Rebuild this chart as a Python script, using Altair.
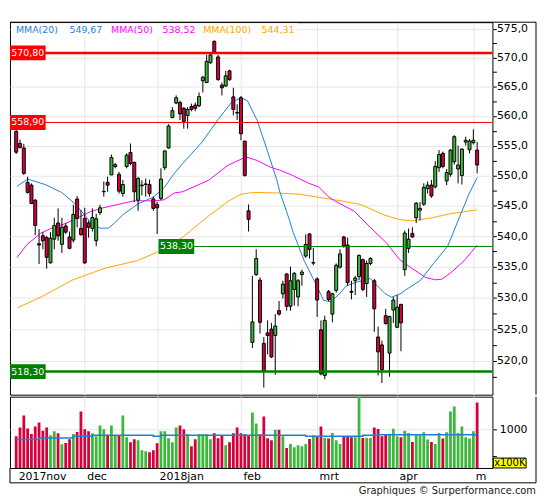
import altair as alt
import pandas as pd

# ---------------- data ----------------
opens = [557.4, 555.35, 554.6, 548.85, 548.4, 545.9, 538.75, 540.05, 539.75, 535.65,
         539.5, 542.15, 538.65, 541.65, 539.85, 539.35, 546.1, 541.25, 542.9, 542.15,
         541.25, 539.25,
         543.85, 547.3, 548.85, 550.1, 551.5, 550.2, 547.0, 551.5, 553.85, 552.2,
         545.9, 548.3, 548.5, 548.5, 546.1, 545.2, 546.2, 551.3, 554.6,
         559.75, 562.2, 562.3, 561.3, 560.1, 561.6, 561.85, 561.75, 566.0, 565.7,
         569.1, 572.8, 570.1, 565.25, 565.1, 567.7, 563.25, 560.6, 563.1, 555.75, 544.15,
         522.9, 533.75, 532.85, 522.75, 524.4, 525.0, 524.0, 527.95, 530.65, 533.85,
         528.65, 531.35, 530.15, 533.75, 536.75, 540.35, 535.6, 533.05, 524.9, 517.7,
         531.0, 527.4, 531.2, 534.95, 539.85, 538.55, 531.05, 532.75, 533.45, 536.15,
         532.3, 535.55, 532.75, 523.75, 522.5, 527.15, 521.2, 528.05, 525.3, 528.95, 534.55,
         538.0, 540.45, 543.0, 544.25, 545.25, 547.85, 548.4, 548.1, 551.3, 553.7,
         549.1, 550.2, 552.3, 551.1, 550.0, 555.6, 554.3, 555.5, 554.25]
highs = [557.8, 556.0, 555.3, 549.8, 548.7, 546.1, 541.15, 540.65, 540.05, 540.65,
         543.0, 544.55, 543.0, 542.15, 540.75, 545.15, 546.6, 544.25, 544.65, 542.55,
         544.55, 543.65,
         545.15, 549.0, 549.8, 553.5, 552.1, 550.6, 549.25, 553.7, 555.35, 552.3,
         549.8, 549.2, 549.5, 549.3, 546.5, 545.6, 551.2, 554.25, 558.6,
         561.5, 563.5, 562.6, 561.5, 561.5, 562.1, 562.3, 564.0, 566.85, 570.45,
         570.85, 572.95, 570.45, 565.7, 567.7, 567.9, 564.8, 562.0, 563.4, 555.8, 545.2,
         533.55, 537.85, 533.3, 523.75, 526.4, 526.0, 527.4, 529.5, 532.75, 533.95,
         535.05, 534.15, 533.05, 534.55, 540.25, 540.5, 538.05, 533.3, 526.4, 527.15,
         531.25, 530.85, 535.55, 537.85, 540.05, 539.75, 532.75, 533.55, 537.0, 536.35,
         536.0, 536.55, 533.05, 525.4, 523.2, 528.25, 527.15, 530.15, 530.45, 529.05, 540.9,
         541.25, 541.45, 545.6, 545.6, 548.7, 549.0, 549.25, 552.4, 554.25, 554.0,
         551.1, 554.4, 556.75, 555.0, 554.6, 556.5, 556.1, 557.75, 555.6]
lows = [553.6, 554.5, 550.1, 547.0, 545.25, 540.15, 535.45, 537.85, 534.7, 535.55,
        537.85, 539.25, 537.25, 540.35, 537.85, 538.95, 541.45, 540.05, 535.45, 539.75,
        540.75, 538.35,
        543.45, 546.5, 547.3, 550.1, 551.2, 547.0, 546.5, 551.2, 551.7, 545.6,
        544.15, 546.7, 546.5, 546.5, 544.15, 540.35, 545.9, 550.9, 554.5,
        559.6, 562.0, 559.3, 557.85, 557.85, 560.8, 560.8, 561.5, 564.0, 565.6,
        568.95, 570.75, 566.0, 563.5, 565.0, 566.0, 560.1, 559.3, 555.9, 549.8, 540.75,
        522.0, 533.55, 524.3, 515.8, 521.0, 520.45, 517.8, 527.15, 529.9, 527.95,
        527.95, 528.75, 528.65, 531.95, 536.45, 536.35, 535.25, 526.95, 517.7, 517.1,
        529.45, 526.1, 530.8, 534.7, 538.1, 531.95, 529.75, 530.45, 532.85, 531.05,
        530.15, 535.25, 524.6, 517.7, 516.5, 525.7, 517.5, 526.0, 525.15, 521.5, 533.55,
        537.25, 539.75, 542.15, 542.55, 544.95, 547.0, 546.3, 547.85, 550.6, 551.2,
        548.4, 549.8, 551.85, 548.7, 548.5, 555.0, 553.7, 555.2, 550.35]
closes = [553.9, 554.7, 550.35, 547.2, 545.35, 541.75, 538.55, 539.25, 536.55, 539.65,
          541.75, 540.05, 541.45, 540.65, 538.0, 543.55, 542.9, 540.25, 535.65, 541.45,
          543.05, 542.85,
          544.65, 547.35, 548.4, 553.0, 551.8, 547.4, 548.5, 553.4, 552.0, 547.3,
          549.5, 548.4, 548.6, 547.0, 544.55, 544.65, 549.4, 554.1, 558.3,
          560.9, 563.1, 560.35, 559.1, 561.1, 561.1, 561.3, 563.3, 566.6, 569.35,
          570.45, 570.9, 566.2, 564.8, 566.85, 566.2, 561.1, 560.5, 557.0, 550.0, 542.75,
          526.15, 536.35, 526.1, 518.4, 524.0, 520.6, 525.5, 527.4, 532.2, 528.65,
          532.75, 533.95, 532.75, 534.15, 538.65, 537.85, 535.7, 529.65, 517.95, 526.4,
          529.75, 530.65, 535.25, 537.1, 538.35, 532.45, 530.9, 533.2, 536.85, 531.35,
          535.55, 536.35, 528.25, 521.4, 518.6, 525.9, 527.0, 529.65, 528.5, 526.0, 540.5,
          539.5, 539.85, 545.4, 544.55, 548.0, 548.4, 546.6, 551.5, 553.5, 551.5,
          550.5, 554.25, 556.5, 551.75, 554.4, 555.9, 555.75, 555.9, 551.75]
volumes = [874, 1043, 1268, 1024, 918, 1062, 1137, 981, 1043, 893,
           968, 931, 724, 749, 818, 918, 955, 1343, 1006, 968,
           931, 874, 1081, 1006, 906, 1081, 893, 893, 1268, 856,
           762, 818, 799, 612, 593, 574, 612, 743, 968, 968,
           837, 762, 1043, 1081, 1006, 912, 687, 818, 912, 912,
           912, 818, 931, 837, 893, 706, 762, 931, 1043, 931,
           912, 893, 1324, 1118, 912, 1249, 837,
           799, 1000, 1000, 874, 655, 730, 668, 706, 687, 730,
           824, 893, 874, 1062, 843, 831, 937, 799, 730, 874,
           874, 856, 856, 1624, 843, 843, 843, 1043, 1012, 874,
           906, 918, 1018, 874, 856, 981, 937, 768, 918, 893,
           949, 812, 768, 730, 937, 831, 949, 1343, 1437, 937,
           1062, 856, 831, 968, 1512]

mma20_pos = [0.2, 3.0, 7.6, 11.9, 15.3, 17.8, 20.0, 22.0, 24.2, 25.9,
             28.0, 32.0, 36.0, 39.0, 41.2, 43.7, 48.8, 53.0, 56.5, 59.0,
             60.7, 63.3, 65.8, 68.4, 69.2, 71.8, 72.6, 75.6, 78.6, 80.7,
             82.4, 84.5, 86.6, 89.2, 93.0, 94.7, 96.8, 98.5, 101.0, 102.3,
             106.1, 109.5, 113.3, 116.3, 118.9, 121.0]
mma20_val = [548.2, 549.4, 548.5, 547.2, 545.4, 543.6, 541.9, 541.3, 541.3, 542.2,
             543.5, 545.3, 546.4, 548.1, 550.1, 552.0, 555.6, 559.4, 562.3, 563.1,
             562.6, 559.2, 554.4, 549.3, 547.3, 542.5, 540.8, 536.0, 532.3, 529.6,
             529.4, 530.4, 531.9, 532.5, 533.1, 532.0, 530.7, 530.1, 530.7, 531.3,
             532.8, 535.5, 538.4, 543.0, 547.0, 549.67]
mma50_pos = [0.2, 2.8, 6.5, 9.3, 12.7, 15.5, 19.5, 22.5, 24.6, 31.0,
             36.5, 39.0, 41.5, 43.7, 50.5, 55.6, 60.3, 63.3, 66.7, 69.2,
             72.6, 76.8, 79.4, 81.9, 83.6, 88.7, 93.0, 97.2, 100.6, 104.0,
             107.4, 110.0, 111.7, 114.2, 117.6, 121.0]
mma50_val = [536.5, 538.6, 540.5, 541.3, 542.0, 542.8, 544.0, 544.6, 544.9, 545.8,
             545.8, 546.0, 547.1, 547.3, 549.2, 551.7, 553.1, 552.5, 551.4, 550.9,
             550.0, 548.7, 548.1, 546.5, 545.8, 544.1, 541.4, 538.9, 536.2, 534.7,
             533.3, 532.9, 533.0, 534.1, 536.0, 538.52]
mma100_pos = [0.3, 6.4, 14.9, 23.4, 31.8, 37.8, 43.7, 50.5, 55.6, 59.0, 62.4,
              68.4, 74.3, 80.2, 85.3, 90.4, 96.4, 100.6, 104.0, 109.1, 114.2, 121.0]
mma100_val = [528.4, 530.1, 532.9, 534.8, 536.0, 537.6, 539.8, 543.3, 545.7, 546.9, 547.2,
              547.1, 546.9, 546.3, 545.8, 545.2, 543.5, 542.7, 542.5, 543.0, 543.7, 544.31]
vol_avg_pos = [0, 6, 15, 20, 36, 38, 76, 91, 95, 121]
vol_avg_val = [812, 843, 874, 893, 874, 893, 874, 893, 906, 906]

month_pos = [0, 18, 37, 59, 79, 100, 120]
month_labels = ["2017nov", "dec", "2018jan", "feb", "mrt", "apr", "m"]

levels = [570.80, 558.90, 538.30, 518.30]
level_labels = ["570,80", "558,90", "538,30", "518,30"]

ma_names = ["MMA(20)", "MMA(50)", "MMA(100)"]
ma_last = ["549,67", "538,52", "544,31"]

price_ticks = [517.5, 520, 522.5, 525, 527.5, 530, 532.5, 535, 537.5, 540, 542.5,
               545, 547.5, 550, 552.5, 555, 557.5, 560, 562.5, 565, 567.5, 570,
               572.5, 575]
vol_ticks = [500, 1000]

# ---------------- styles / layout ----------------
FONT = "DejaVu Sans"
RED = "#d6003c"
GREEN = "#3cb83c"
BLUE = "#1f7fd6"
MAGENTA = "#ff00ff"
ORANGE = "#ffa500"
GRID = "#e6e6e6"
W, HP, HV = 487, 376, 72
FR = 531  # outer frame right edge (relative to plot left)
level_colors = ["#ff0000", "#ff0000", "#008000", "#008000"]
level_widths = [2.5, 1, 1, 2.5]
level_x0 = [0, 0, 150, 0]
legend_name_x = [6, 102, 195]
legend_val_x = [60, 154, 254]
ma_colors = [BLUE, MAGENTA, ORANGE]

df = pd.DataFrame({"i": list(range(len(opens))), "open": opens, "high": highs,
                   "low": lows, "close": closes, "volume": volumes})
df["dir"] = ["up" if c >= o else "down" for o, c in zip(opens, closes)]
one = pd.DataFrame({"k": [0]})

xs = alt.Scale(domain=[-0.33, 123.71], nice=False, zero=False)
ys = alt.Scale(type="log", domain=[514.69, 576.13], nice=False, zero=False)
vs = alt.Scale(domain=[275, 1625], nice=False, zero=False)
col = alt.Color("dir:N", scale=alt.Scale(domain=["up", "down"], range=[GREEN, RED]), legend=None)

x_axis_price = alt.Axis(values=month_pos[1:], labels=False, ticks=False, domain=False,
                        grid=True, gridColor=GRID, title=None)
label_expr = " : ".join(f"datum.value == {p} ? '{l}'" for p, l in zip(month_pos, month_labels)) + " : ''"
x_axis_vol = alt.Axis(values=month_pos, labelExpr=label_expr, labelAlign="left",
                      labelBaseline="top", labelPadding=3, labelOffset=2, ticks=False,
                      domain=False, grid=True, gridColor=GRID,
                      gridOpacity={"condition": {"test": "datum.value > 0", "value": 1}, "value": 0},
                      labelFont=FONT, labelFontSize=11, labelColor="black",
                      labelOverlap=False, labelFlush=False, title=None)
y_axis_price = alt.Axis(orient="right", values=price_ticks,
                        labelExpr="datum.value % 5 == 0 ? replace(format(datum.value, '.1f'), '.', ',') : ''",
                        tickSize=4, tickColor="black", labelPadding=0, domain=False,
                        grid=True, gridColor=GRID,
                        gridOpacity={"condition": {"test": "datum.value % 5 == 0", "value": 1}, "value": 0},
                        labelFont=FONT, labelFontSize=11, labelColor="black",
                        labelOverlap=False, labelFlush=False, title=None)
y_axis_vol = alt.Axis(orient="right", values=vol_ticks,
                      labelExpr="datum.value == 1000 ? format(datum.value, 'd') : ''",
                      tickSize=4, tickColor="black", labelPadding=3, domain=False,
                      grid=True, gridColor=GRID,
                      gridOpacity={"condition": {"test": "datum.value == 1000", "value": 1}, "value": 0},
                      labelFont=FONT, labelFontSize=11, labelColor="black",
                      labelOverlap=False, labelFlush=False, title=None)


def XP(f):
    return alt.X(f, type="quantitative", scale=xs, axis=x_axis_price, title=None)


def YP(f):
    return alt.Y(f, type="quantitative", scale=ys, axis=y_axis_price, title=None)


def XV(f):
    return alt.X(f, type="quantitative", scale=xs, axis=x_axis_vol, title=None)


def YV(f):
    return alt.Y(f, type="quantitative", scale=vs, axis=y_axis_vol, title=None)


# ---------------- price panel ----------------
layers = []
legend_bg = alt.Chart(one).mark_rect(color="white").encode(
    x=alt.value(1), x2=alt.value(290), y=alt.value(1), y2=alt.value(14))
layers.append(legend_bg)
for pos, val, c in [(mma100_pos, mma100_val, ORANGE), (mma50_pos, mma50_val, MAGENTA),
                    (mma20_pos, mma20_val, BLUE)]:
    layers.append(alt.Chart(pd.DataFrame({"i": pos, "v": val})).mark_line(
        color=c, strokeWidth=1).encode(x=XP("i"), y=YP("v")))

base = alt.Chart(df)
layers.append(base.mark_rule(color="black", strokeWidth=1).encode(
    x=XP("i"), y=YP("low"), y2="high"))
layers.append(base.mark_bar(width=3, stroke="black", strokeWidth=1).encode(
    x=XP("i"), y=YP("open"), y2="close", color=col))

for k in range(len(levels)):
    ld = pd.DataFrame({"level": [levels[k]], "label": [level_labels[k]]})
    lc = alt.Chart(ld)
    layers.append(lc.mark_rule(color=level_colors[k], strokeWidth=level_widths[k]).encode(
        y=YP("level"), x=alt.value(level_x0[k]), x2=alt.value(W)))
    layers.append(lc.mark_tick(orient="horizontal", thickness=15, size=36,
                               color=level_colors[k], opacity=1).encode(
        y=YP("level"), x=alt.value(level_x0[k] + 18)))
    layers.append(lc.mark_text(color="white", font=FONT, fontSize=9.5, align="center",
                               baseline="middle").encode(
        y=YP("level"), x=alt.value(level_x0[k] + 18), text="label:N"))

for k in range(3):
    layers.append(alt.Chart(one).mark_text(text=ma_names[k], color=ma_colors[k], font=FONT,
                                           fontSize=9.5, align="left", baseline="middle").encode(
        x=alt.value(legend_name_x[k]), y=alt.value(8)))
    layers.append(alt.Chart(one).mark_text(text=ma_last[k], color=ma_colors[k], font=FONT,
                                           fontSize=9.5, align="left", baseline="middle").encode(
        x=alt.value(legend_val_x[k]), y=alt.value(8)))

layers.append(alt.Chart(one).mark_rule(color="black", strokeWidth=1).encode(
    x=alt.value(0), x2=alt.value(FR), y=alt.value(0)))
layers.append(alt.Chart(one).mark_rule(color="black", strokeWidth=1).encode(
    x=alt.value(FR), y=alt.value(0), y2=alt.value(HP)))

price = alt.layer(*layers).properties(width=W, height=HP)

# ---------------- volume panel ----------------
vlayers = []
vlayers.append(base.mark_bar(width=2.8, clip=True).encode(x=XV("i"), y=YV("volume"), color=col))
vlayers.append(alt.Chart(pd.DataFrame({"i": vol_avg_pos, "v": vol_avg_val})).mark_line(
    color=BLUE, strokeWidth=1.5, interpolate="step-after").encode(x=XV("i"), y=YV("v")))
vlayers.append(alt.Chart(one).mark_rect(fill="#ffff00", stroke="black", strokeWidth=1).encode(
    x=alt.value(488), x2=alt.value(521), y=alt.value(62), y2=alt.value(72)))
vlayers.append(alt.Chart(one).mark_text(text="x100K", font=FONT, fontSize=10, color="black",
                                        align="center", baseline="middle").encode(
    x=alt.value(504.5), y=alt.value(67.3)))
vlayers.append(alt.Chart(one).mark_rule(color="black", strokeWidth=1).encode(
    x=alt.value(FR), y=alt.value(0), y2=alt.value(87)))
vlayers.append(alt.Chart(one).mark_rule(color="black", strokeWidth=1).encode(
    x=alt.value(0), x2=alt.value(FR), y=alt.value(87)))
vlayers.append(alt.Chart(one).mark_rule(color="black", strokeWidth=1).encode(
    x=alt.value(0), y=alt.value(HV), y2=alt.value(87)))
vlayers.append(alt.Chart(one).mark_text(text="Graphiques \u00a9 Surperformance.com", font=FONT,
                                        fontSize=10, color="#222222", align="right",
                                        baseline="middle").encode(
    x=alt.value(FR), y=alt.value(95.7)))

volume = alt.layer(*vlayers).properties(width=W, height=HV)

chart = alt.vconcat(price, volume, spacing=0).resolve_scale(
    x="independent", y="independent").properties(
    padding={"left": 0, "top": 11, "right": 0, "bottom": 0},
    background="white").configure_view(stroke="black", strokeWidth=1)

chart.save("out.html", embed_options={"renderer": "svg", "actions": False})
